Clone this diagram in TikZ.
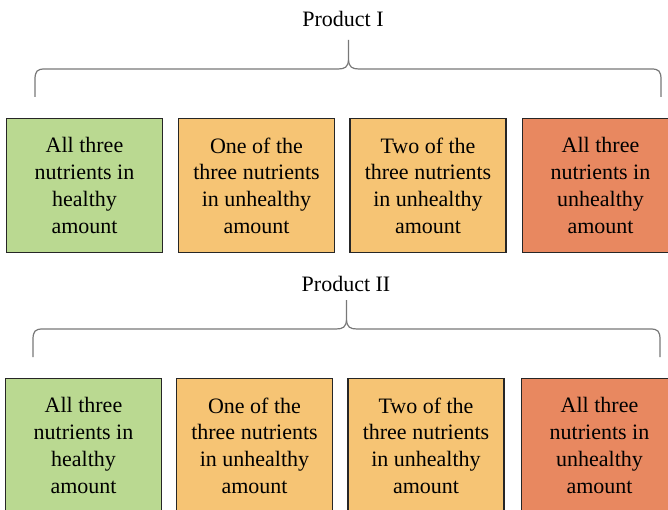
\documentclass[tikz,border=0pt]{standalone}
\usepackage{fontspec}
\setmainfont{Liberation Serif}
\newfontfamily\boxfont{Liberation Serif}
\definecolor{cgreen}{RGB}{186,217,145}
\definecolor{corange}{RGB}{246,196,116}
\definecolor{cred}{RGB}{232,136,96}
\definecolor{cbrace}{RGB}{120,120,120}
\begin{document}
\begin{tikzpicture}[x=1pt,y=-1pt,
  cat/.style={draw=black!85,line width=1.5pt,minimum width=156pt,minimum height=134pt,
    align=center,inner sep=0pt,font=\boxfont\fontsize{22}{26.7}\selectfont},
  lbl/.style={font=\boxfont\fontsize{22}{26}\selectfont,inner sep=0pt},
  bracepath/.style={draw=cbrace,line width=1.2pt}]
\useasboundingbox (0,0) rectangle (668,510);
\fill[white] (0,0) rectangle (668,510);
% Row 1
\node[lbl] (p1) at (343,19) {Product I};
\node[cat,fill=cgreen]  (a1) at (84.5,185.5) {All three\\nutrients in\\healthy\\amount};
\node[cat,fill=corange] (a2) at (256.5,185.5) {One of the\\three nutrients\\in unhealthy\\amount};
\node[cat,fill=corange] (a3) at (428,185.5) {Two of the\\three nutrients\\in unhealthy\\amount};
\node[cat,fill=cred]    (a4) at (600.5,185.5) {All three\\nutrients in\\unhealthy\\amount};
\draw[bracepath] (35,97) -- (35,80) .. controls (35,71) and (37,69) .. (45,69)
  -- (338,69) .. controls (345,69) and (348,67) .. (348.5,60) -- (348.5,40);
\draw[bracepath] (661,97) -- (661,80) .. controls (661,71) and (659,69) .. (651,69)
  -- (359,69) .. controls (352,69) and (349,67) .. (348.5,60);
% Row 2
\node[lbl] (p2) at (346,284) {Product II};
\node[cat,fill=cgreen]  (b1) at (83.5,445.5) {All three\\nutrients in\\healthy\\amount};
\node[cat,fill=corange] (b2) at (254.5,445.5) {One of the\\three nutrients\\in unhealthy\\amount};
\node[cat,fill=corange] (b3) at (426,445.5) {Two of the\\three nutrients\\in unhealthy\\amount};
\node[cat,fill=cred]    (b4) at (599.5,445.5) {All three\\nutrients in\\unhealthy\\amount};
\draw[bracepath] (33,357) -- (33,340) .. controls (33,331) and (35,329) .. (43,329)
  -- (336,329) .. controls (343,329) and (346,327) .. (346.5,320) -- (346.5,300);
\draw[bracepath] (660,357) -- (660,340) .. controls (660,331) and (658,329) .. (650,329)
  -- (357,329) .. controls (350,329) and (347,327) .. (346.5,320);
\end{tikzpicture}
\end{document}
